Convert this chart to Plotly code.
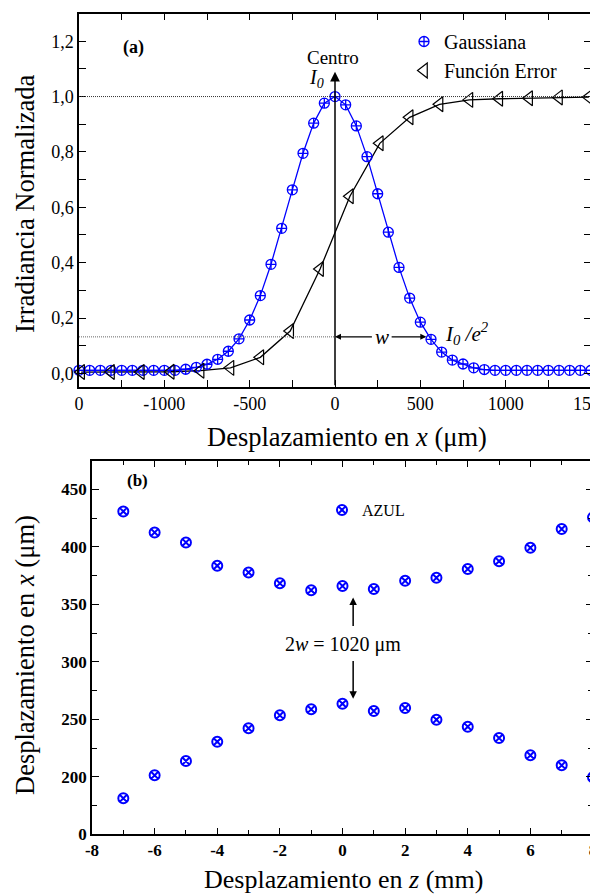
import plotly.graph_objects as go

FONT = "Liberation Serif"

# ---- Panel (a) data ----
gauss_x = [62.5 * n for n in range(-25, 25)]
gauss_y = [0.011, 0.011, 0.011, 0.011, 0.011, 0.011, 0.011, 0.011, 0.011, 0.011, 0.011,
           0.015, 0.022, 0.033, 0.051, 0.080, 0.125, 0.193, 0.281, 0.394, 0.524,
           0.663, 0.795, 0.904, 0.976, 1.000, 0.970, 0.894, 0.783, 0.649, 0.510,
           0.383, 0.272, 0.185, 0.123, 0.077, 0.048, 0.034, 0.020, 0.014,
           0.011, 0.011, 0.011, 0.011, 0.011, 0.011, 0.011, 0.011, 0.011, 0.011]

erf_x = [-1487.5, -1312.5, -1137.5, -962.5, -787.5, -612.5, -437.5, -262.5, -87.5,
         87.5, 262.5, 437.5, 612.5, 787.5, 962.5, 1137.5, 1312.5, 1487.5]
erf_y = [0.005, 0.005, 0.005, 0.006, 0.010, 0.020, 0.058, 0.153, 0.377,
         0.640, 0.831, 0.925, 0.972, 0.988, 0.992, 0.994, 0.997, 0.998]

a_xticks = [-1500, -1000, -500, 0, 500, 1000, 1500]
a_xlabels = ["0", "-1000", "-500", "0", "500", "1000", "1500"]
a_yticks = [0.0, 0.2, 0.4, 0.6, 0.8, 1.0, 1.2]
a_ylabels = ["0,0", "0,2", "0,4", "0,6", "0,8", "1,0", "1,2"]

# ---- Panel (b) data ----
z = [-7, -6, -5, -4, -3, -2, -1, 0, 1, 2, 3, 4, 5, 6, 7, 8]
upper = [430.9, 412.6, 403.9, 383.6, 377.8, 368.3, 362.4, 365.9, 363.3, 370.5, 373.1,
         380.7, 387.6, 399.2, 415.5, 425.7]
lower = [181.3, 201.3, 213.7, 230.5, 242.2, 253.5, 258.7, 263.6, 257.2, 259.8, 249.7,
         243.6, 233.7, 218.7, 210.0, 199.6]
b_yticks = [150, 200, 250, 300, 350, 400, 450]
b_ylabels = ["0", "200", "250", "300", "350", "400", "450"]
b_xticks = [-8, -6, -4, -2, 0, 2, 4, 6, 8]
b_xlabels = ["-8", "-6", "-4", "-2", "0", "2", "4", "6", "8"]

# page body has an 8px margin; the figure is sized to fill the rest of the window
OX, OY = 8, 8
W, H = 598 - OX, 895 - OY


def px(x):
    return (x - OX) / W


def py(y):
    return 1 - (y - OY) / H


BLUE = "#0000ff"

fig = go.Figure()

# Panel (a) traces
fig.add_trace(go.Scatter(x=gauss_x, y=gauss_y, mode="lines", line=dict(color=BLUE, width=1.3),
                         showlegend=False, xaxis="x", yaxis="y", cliponaxis=False))
fig.add_trace(go.Scatter(x=erf_x, y=erf_y, mode="lines", line=dict(color="black", width=1.3),
                         showlegend=False, xaxis="x", yaxis="y", cliponaxis=False))
fig.add_trace(go.Scatter(x=gauss_x, y=gauss_y, mode="markers", name="Gaussiana",
                         marker=dict(symbol="circle-cross-open", size=10, color=BLUE,
                                     line=dict(width=1.3, color=BLUE)),
                         xaxis="x", yaxis="y", legend="legend", cliponaxis=False))
fig.add_trace(go.Scatter(x=erf_x, y=erf_y, mode="markers", name="Función Error",
                         marker=dict(symbol="triangle-left-open", size=13, color="black",
                                     line=dict(width=1.2, color="black")),
                         xaxis="x", yaxis="y", legend="legend", cliponaxis=False))

# Panel (b) traces
fig.add_trace(go.Scatter(x=z, y=upper, mode="markers", name="AZUL",
                         marker=dict(symbol="circle-x-open", size=10, color=BLUE,
                                     line=dict(width=2, color=BLUE)),
                         xaxis="x2", yaxis="y2", legend="legend2", cliponaxis=False))
fig.add_trace(go.Scatter(x=z, y=lower, mode="markers", name="AZUL", showlegend=False,
                         marker=dict(symbol="circle-x-open", size=10, color=BLUE,
                                     line=dict(width=2, color=BLUE)),
                         xaxis="x2", yaxis="y2", cliponaxis=False))

axis_common = dict(showline=True, linecolor="black", linewidth=1.5, mirror="allticks",
                   ticks="inside", ticklen=7, tickwidth=1.3, tickcolor="black",
                   showgrid=False, zeroline=False, automargin=False,
                   ticklabeloverflow="allow")

fig.update_layout(
    width=W, height=H,
    margin=dict(l=0, r=0, t=0, b=0),
    paper_bgcolor="white", plot_bgcolor="white",
    font=dict(family=FONT, color="black"),
    xaxis=dict(domain=[px(79), px(591)], anchor="y", range=[-1500, 1500],
               tickvals=a_xticks, ticktext=a_xlabels,
               tickfont=dict(size=18, family=FONT),
               minor=dict(dtick=250, tick0=0, ticks="inside", ticklen=7, tickcolor="black"),
               **axis_common),
    yaxis=dict(domain=[py(386.7), py(13.5)], anchor="x", range=[-0.048, 1.3],
               tickvals=a_yticks, ticktext=a_ylabels,
               tickfont=dict(size=18, family=FONT),
               minor=dict(dtick=0.1, tick0=0, ticks="inside", ticklen=7, tickcolor="black"),
               **axis_common),
    xaxis2=dict(domain=[px(92), px(593)], anchor="y2", range=[-8, 8],
                tickvals=b_xticks, ticktext=b_xlabels,
                tickfont=dict(size=17, family=FONT, weight="bold"),
                minor=dict(dtick=1, tick0=0, ticks="inside", ticklen=5, tickcolor="black"),
                **axis_common),
    yaxis2=dict(domain=[py(834.3), py(460.7)], anchor="x2", range=[150, 475],
                tickvals=b_yticks, ticktext=b_ylabels,
                tickfont=dict(size=17, family=FONT, weight="bold"),
                minor=dict(dtick=25, tick0=0, ticks="inside", ticklen=5, tickcolor="black"),
                **axis_common),
    legend=dict(x=px(404), y=py(22), xanchor="left", yanchor="top",
                bgcolor="rgba(0,0,0,0)", font=dict(size=20, family=FONT),
                tracegroupgap=0, itemwidth=30),
    legend2=dict(x=px(322), y=py(493), xanchor="left", yanchor="top",
                 bgcolor="rgba(0,0,0,0)", font=dict(size=16, family=FONT), itemwidth=30),
)

shapes = [
    dict(type="line", xref="x", yref="y", x0=-1500, x1=1500, y0=1.0, y1=1.0,
         line=dict(color="#333333", width=1, dash="1px,1px")),
    dict(type="line", xref="x", yref="y", x0=-1500, x1=0, y0=0.132, y1=0.132,
         line=dict(color="#666666", width=1, dash="1px,1px")),
]
fig.update_layout(shapes=shapes)

ann = []
# vertical arrow at the centre
ann.append(dict(xref="x", yref="y", x=0, y=1.09, axref="x", ayref="y", ax=0, ay=-0.048,
                showarrow=True, arrowhead=2, arrowsize=1.3, arrowwidth=1.5, arrowcolor="black",
                text=""))
# w double arrow
ann.append(dict(xref="x", yref="y", x=0, y=0.132, axref="x", ayref="y", ax=225, ay=0.132,
                showarrow=True, arrowhead=2, arrowsize=1, arrowwidth=1.2, arrowcolor="black",
                text=""))
ann.append(dict(xref="x", yref="y", x=535, y=0.132, axref="x", ayref="y", ax=323, ay=0.132,
                showarrow=True, arrowhead=2, arrowsize=1, arrowwidth=1.2, arrowcolor="black",
                text=""))
ann.append(dict(xref="x", yref="y", x=275, y=0.132, text="<i>w</i>", showarrow=False,
                xanchor="center", yanchor="middle", font=dict(size=21, family=FONT)))
ann.append(dict(xref="x", yref="y", x=630, y=0.145, xanchor="left", yanchor="middle",
                text="<i>I<sub>0</sub> /e<sup>2</sup></i>",
                showarrow=False, font=dict(size=21, family=FONT)))
ann.append(dict(xref="x", yref="y", x=-12, y=1.14, text="Centro", showarrow=False,
                xanchor="center", yanchor="middle", font=dict(size=19, family=FONT)))
ann.append(dict(xref="x", yref="y", x=-110, y=1.065, text="<i>I<sub>0</sub></i>", showarrow=False,
                xanchor="center", yanchor="middle", font=dict(size=20, family=FONT)))
ann.append(dict(xref="x", yref="y", x=-1255, y=1.177, xanchor="left", yanchor="middle",
                text="<b>(a)</b>", showarrow=False, font=dict(size=18, family=FONT)))
# axis titles (a)
ann.append(dict(xref="paper", yref="paper", x=px(347), y=py(437),
                xanchor="center", yanchor="middle",
                text="Desplazamiento en <i>x</i> (μm)", showarrow=False,
                font=dict(size=26.5, family=FONT)))
ann.append(dict(xref="paper", yref="paper", x=px(25), y=py(204), textangle=-90,
                xanchor="center", yanchor="middle",
                text="Irradiancia Normalizada", showarrow=False,
                font=dict(size=26.5, family=FONT)))

# Panel (b)
ann.append(dict(xref="x2", yref="y2", x=-6.95, y=458, xanchor="left", yanchor="middle",
                text="<b>(b)</b>", showarrow=False, font=dict(size=17, family=FONT)))
ann.append(dict(xref="x2", yref="y2", x=0.0, y=315.5, text="2<i>w</i> = 1020 μm",
                xanchor="center", yanchor="middle",
                showarrow=False, font=dict(size=20, family=FONT)))
ann.append(dict(xref="x2", yref="y2", x=0.34, y=356, axref="x2", ayref="y2", ax=0.34, ay=330,
                showarrow=True, arrowhead=2, arrowsize=1, arrowwidth=1.5, arrowcolor="black",
                text=""))
ann.append(dict(xref="x2", yref="y2", x=0.34, y=268, axref="x2", ayref="y2", ax=0.34, ay=302,
                showarrow=True, arrowhead=2, arrowsize=1, arrowwidth=1.5, arrowcolor="black",
                text=""))
ann.append(dict(xref="paper", yref="paper", x=px(343), y=py(879),
                xanchor="center", yanchor="middle",
                text="Desplazamiento en <i>z</i> (mm)", showarrow=False,
                font=dict(size=26, family=FONT)))
ann.append(dict(xref="paper", yref="paper", x=px(25), y=py(655), textangle=-90,
                xanchor="center", yanchor="middle",
                text="Desplazamiento en <i>x</i> (μm)", showarrow=False,
                font=dict(size=26.5, family=FONT)))

fig.update_layout(annotations=ann)

fig.write_html("out.html")
